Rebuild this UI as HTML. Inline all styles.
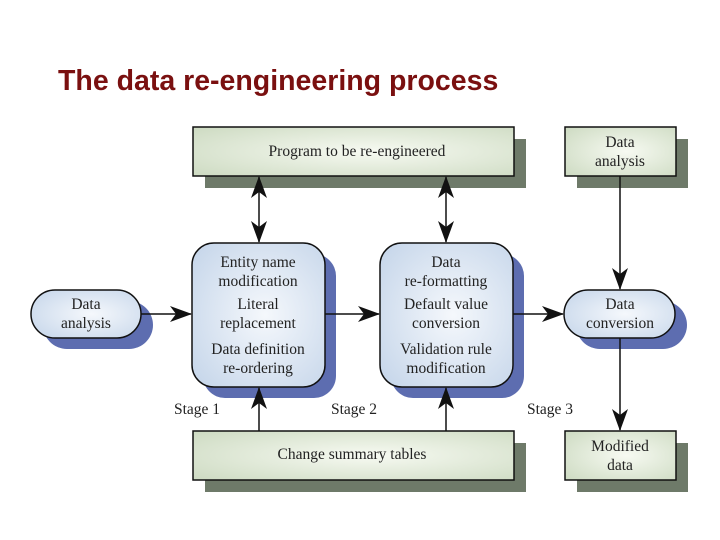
<!DOCTYPE html>
<html><head><meta charset="utf-8"><style>
html,body{margin:0;padding:0;background:#fff;width:720px;height:540px;overflow:hidden}
svg text{font-family:"Liberation Serif",serif;font-size:15.5px;fill:#222}
</style></head><body>
<svg width="720" height="540" viewBox="0 0 720 540" xmlns="http://www.w3.org/2000/svg">
<defs>
<radialGradient id="g" cx="0.55" cy="0.5" r="0.7"><stop offset="0" stop-color="#f7faf2"/><stop offset="1" stop-color="#cfdcc4"/></radialGradient>
<radialGradient id="b" cx="0.55" cy="0.5" r="0.7"><stop offset="0" stop-color="#f5f8fc"/><stop offset="1" stop-color="#c6d6ea"/></radialGradient>
<marker id="a" markerWidth="22" markerHeight="16" refX="21" refY="8" orient="auto" markerUnits="userSpaceOnUse"><path d="M0,0 L22,8 L0,16 L6,8z" fill="#111"/></marker>
<marker id="s" markerWidth="22" markerHeight="16" refX="1" refY="8" orient="auto" markerUnits="userSpaceOnUse"><path d="M22,0 L0,8 L22,16 L16,8z" fill="#111"/></marker>
</defs>
<text x="58" y="90" style="font-family:'Liberation Sans',sans-serif;font-size:28.5px;font-weight:bold;fill:#7a1010">The data re-engineering process</text>
<rect x="205" y="139" width="321" height="49" fill="#6e7a69"/>
<rect x="577" y="139" width="111" height="49" fill="#6e7a69"/>
<rect x="205" y="443" width="321" height="49" fill="#6e7a69"/>
<rect x="577" y="443" width="111" height="49" fill="#6e7a69"/>
<rect x="203" y="254" width="133" height="144" rx="22" fill="#5d6db0"/>
<rect x="391" y="254" width="133" height="144" rx="22" fill="#5d6db0"/>
<rect x="43" y="301" width="110" height="48" rx="24" fill="#5d6db0"/>
<rect x="576" y="301" width="111" height="48" rx="24" fill="#5d6db0"/>
<rect x="193" y="127" width="321" height="49" fill="url(#g)" stroke="#111" stroke-width="1.5"/>
<rect x="565" y="127" width="111" height="49" fill="url(#g)" stroke="#111" stroke-width="1.5"/>
<rect x="193" y="431" width="321" height="49" fill="url(#g)" stroke="#111" stroke-width="1.5"/>
<rect x="565" y="431" width="111" height="49" fill="url(#g)" stroke="#111" stroke-width="1.5"/>
<rect x="192" y="243" width="133" height="144" rx="22" fill="url(#b)" stroke="#111" stroke-width="1.5"/>
<rect x="380" y="243" width="133" height="144" rx="22" fill="url(#b)" stroke="#111" stroke-width="1.5"/>
<rect x="31" y="290" width="110" height="48" rx="24" fill="url(#b)" stroke="#111" stroke-width="1.5"/>
<rect x="564" y="290" width="111" height="48" rx="24" fill="url(#b)" stroke="#111" stroke-width="1.5"/>
<g stroke="#111" stroke-width="1.5" fill="none">
<line x1="259" y1="177" x2="259" y2="242" marker-start="url(#s)" marker-end="url(#a)"/>
<line x1="446" y1="177" x2="446" y2="242" marker-start="url(#s)" marker-end="url(#a)"/>
<line x1="141" y1="314" x2="191" y2="314" marker-end="url(#a)"/>
<line x1="325" y1="314" x2="379" y2="314" marker-end="url(#a)"/>
<line x1="513" y1="314" x2="563" y2="314" marker-end="url(#a)"/>
<line x1="620" y1="176" x2="620" y2="289" marker-end="url(#a)"/>
<line x1="620" y1="338" x2="620" y2="430" marker-end="url(#a)"/>
<line x1="259" y1="431" x2="259" y2="388" marker-end="url(#a)"/>
<line x1="446" y1="431" x2="446" y2="388" marker-end="url(#a)"/>
</g>
<g text-anchor="middle">
<text x="357" y="156">Program to be re-engineered</text>
<text x="620" y="147">Data</text><text x="620" y="166">analysis</text>
<text x="352" y="459">Change summary tables</text>
<text x="620" y="451">Modified</text><text x="620" y="470">data</text>
<text x="86" y="309">Data</text><text x="86" y="328">analysis</text>
<text x="620" y="309">Data</text><text x="620" y="328">conversion</text>
<text x="258" y="267">Entity name</text><text x="258" y="286">modification</text>
<text x="258" y="309">Literal</text><text x="258" y="328">replacement</text>
<text x="258" y="354">Data definition</text><text x="258" y="373">re-ordering</text>
<text x="446" y="267">Data</text><text x="446" y="286">re-formatting</text>
<text x="446" y="309">Default value</text><text x="446" y="328">conversion</text>
<text x="446" y="354">Validation rule</text><text x="446" y="373">modification</text>
</g>
<text x="174" y="414">Stage 1</text>
<text x="331" y="414">Stage 2</text>
<text x="527" y="414">Stage 3</text>
</svg>
</body></html>
